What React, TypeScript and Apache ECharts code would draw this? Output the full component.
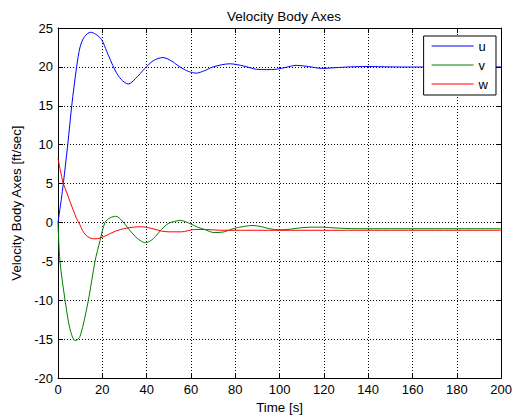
import React, { useEffect, useRef } from "react";
import * as echarts from "echarts";

const uTime = [0, 1.5, 2.4, 4.4, 6.2, 8.4, 10, 12, 14.7, 17, 19.7, 22, 25.7, 28.5, 31.7, 35, 39.2, 43, 47.4, 51, 55, 59, 62.5, 66, 70, 77.5, 84, 89.5, 94, 98.5, 103, 107.5, 113, 119.4, 125, 132, 139, 150, 160, 170, 180, 190, 200];
const uVals = [0, 3, 5, 10, 15, 20, 22.6, 23.9, 24.45, 24.2, 23.5, 22, 19.6, 18.4, 17.8, 18.5, 19.8, 20.8, 21.2, 20.8, 20.0, 19.4, 19.2, 19.5, 20.0, 20.4, 20.1, 19.7, 19.65, 19.7, 19.95, 20.2, 20.05, 19.8, 19.9, 20.0, 20.05, 20.0, 19.98, 20.0, 20.0, 20.0, 20.0];

const vTime = [0, 0.9, 3.2, 5.5, 7.8, 10, 13.7, 16.7, 19, 21.2, 23.5, 26.1, 29, 31.5, 34.7, 37, 39.5, 42, 44, 46.7, 50, 55.4, 60, 63, 66.2, 70.5, 75, 79, 84, 88, 92, 95.5, 100, 105, 109, 114, 119.4, 125, 135, 150, 170, 200];
const vVals = [0, -5, -10, -13.8, -15.2, -14.6, -10, -5, -2.3, 0, 0.6, 0.8, 0.2, -0.7, -1.75, -2.3, -2.6, -2.3, -1.8, -0.9, -0.1, 0.26, -0.2, -0.6, -0.9, -1.3, -1.2, -0.8, -0.5, -0.38, -0.55, -0.8, -0.95, -0.85, -0.7, -0.6, -0.6, -0.7, -0.8, -0.8, -0.8, -0.8];

const wTime = [0, 1, 2.4, 4, 5.4, 7, 8.4, 9.9, 11, 12.5, 14.5, 16.7, 19, 22.7, 26, 30.2, 34, 37.7, 42, 46.7, 50, 55.7, 61.7, 67, 73.7, 80, 90, 100, 120, 150, 200];
const wVals = [8.2, 6.8, 5, 3.8, 2.7, 1.5, 0.5, -0.3, -1.0, -1.6, -2.0, -2.1, -2.0, -1.55, -1.1, -0.77, -0.6, -0.55, -0.75, -1.1, -1.2, -1.2, -0.9, -0.9, -1.0, -1.0, -1.0, -1.0, -1.0, -1.0, -1.0];

const seriesNames = ["u", "v", "w"];
const seriesColors = ["#0000ff", "#008000", "#ff0000"];

const titleText = "Velocity Body Axes";
const xTitle = "Time [s]";
const yTitle = "Velocity Body Axes [ft/sec]";

const xMin = 0, xMax = 200, xStep = 20;
const yMin = -20, yMax = 25, yStep = 5;

const zip = (t: number[], v: number[]) => t.map((x, i) => [x, v[i]]);

const FONT = "Liberation Sans, Arial, sans-serif";

export default function App() {
  const ref = useRef<HTMLDivElement>(null);
  useEffect(() => {
    if (!ref.current) return;
    const chart = echarts.init(ref.current, undefined, { renderer: "svg" });
    const data = [zip(uTime, uVals), zip(vTime, vVals), zip(wTime, wVals)];
    const mainAxisCommon = {
      axisLine: { show: true, onZero: false, lineStyle: { color: "#000", width: 1 } },
      axisTick: { show: true, inside: true, length: 5, lineStyle: { color: "#000" } },
      axisLabel: { color: "#000", fontSize: 13, fontFamily: FONT },
      splitLine: { show: true, lineStyle: { color: "#000", type: [1, 2], width: 1 } },
      nameTextStyle: { color: "#000", fontSize: 13.3, fontFamily: FONT },
    };
    const sideAxisCommon = {
      axisLine: { show: true, onZero: false, lineStyle: { color: "#000", width: 1 } },
      axisTick: { show: true, inside: true, length: 5, lineStyle: { color: "#000" } },
      axisLabel: { show: false },
      splitLine: { show: false },
    };
    chart.setOption({
      animation: false,
      backgroundColor: "#fff",
      title: {
        text: titleText,
        left: 279,
        top: 4,
        textAlign: "center",
        textStyle: { color: "#000", fontSize: 13.5, fontWeight: "normal", fontFamily: FONT },
      },
      legend: {
        data: seriesNames,
        orient: "vertical",
        right: 19,
        top: 36,
        align: "left",
        icon: "rect",
        itemWidth: 42,
        itemHeight: 1,
        itemGap: 5,
        padding: [3, 8, 4, 8],
        borderColor: "#000",
        borderWidth: 1,
        backgroundColor: "#fff",
        textStyle: { color: "#000", fontSize: 13, fontFamily: FONT, lineHeight: 14 },
      },
      grid: { left: 58, right: 13, top: 28, bottom: 40, containLabel: false },
      xAxis: [
        {
          type: "value",
          min: xMin,
          max: xMax,
          interval: xStep,
          position: "bottom",
          name: xTitle,
          nameLocation: "middle",
          nameGap: 22,
          ...mainAxisCommon,
          axisLabel: { ...mainAxisCommon.axisLabel, margin: 5 },
        },
        {
          type: "value",
          min: xMin,
          max: xMax,
          interval: xStep,
          position: "top",
          ...sideAxisCommon,
        },
      ],
      yAxis: [
        {
          type: "value",
          min: yMin,
          max: yMax,
          interval: yStep,
          position: "left",
          name: yTitle,
          nameLocation: "middle",
          nameGap: 32,
          ...mainAxisCommon,
          axisLabel: { ...mainAxisCommon.axisLabel, margin: 5 },
        },
        {
          type: "value",
          min: yMin,
          max: yMax,
          interval: yStep,
          position: "right",
          ...sideAxisCommon,
        },
      ],
      series: seriesNames.map((name, i) => ({
        name,
        type: "line",
        xAxisIndex: 0,
        yAxisIndex: 0,
        data: data[i],
        smooth: 0.3,
        symbol: "none",
        lineStyle: { color: seriesColors[i], width: 1 },
        itemStyle: { color: seriesColors[i] },
        z: 3 + i,
      })),
    });
    return () => chart.dispose();
  }, []);
  return (
    <div
      ref={ref}
      style={{ position: "fixed", left: 0, top: 0, width: 515, height: 419, background: "#fff" }}
    />
  );
}
